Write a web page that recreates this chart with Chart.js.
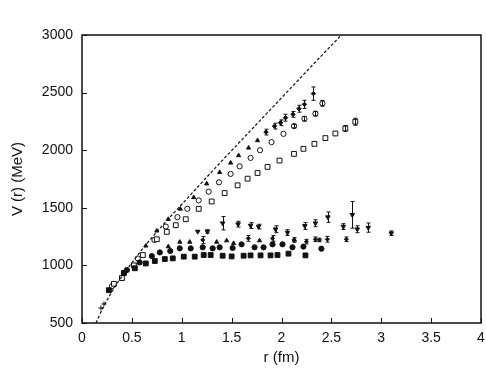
<!DOCTYPE html>
<html><head><meta charset="utf-8">
<script src="https://cdn.jsdelivr.net/npm/chart.js@4"></script>
<style>html,body{margin:0;padding:0;background:#fff}</style>
</head><body>
<canvas id="c" width="486" height="372"></canvas>
<script>
// ---- data (r in fm, V in MeV[, error]) ----
const xTicks = [0, 0.5, 1, 1.5, 2, 2.5, 3, 3.5, 4];
const yTicks = [500, 1000, 1500, 2000, 2500, 3000];

const potentialCurve = [[0.14,500],[0.215,640],[0.33,814],[0.495,1017],[0.66,1200],[0.825,1365],[0.99,1520],[1.32,1831],[1.65,2134],[1.98,2436],[2.31,2738],[2.61,3009]];

const solidSquares = [[0.27,785],[0.42,935],[0.53,975],[0.64,1017],[0.73,1038],[0.83,1055],[0.91,1061],[1.02,1076],[1.13,1076],[1.22,1090],[1.29,1090],[1.41,1084],[1.50,1078],[1.62,1084],[1.69,1087],[1.79,1087],[1.89,1087],[1.96,1090],[2.07,1102],[2.24,1087]];

const solidCircles = [[0.45,960],[0.578,1026],[0.70,1081],[0.78,1113],[0.885,1125],[0.98,1148],[1.09,1148],[1.21,1157],[1.31,1148],[1.38,1157],[1.51,1151],[1.60,1183],[1.73,1157],[1.82,1157],[1.91,1183],[2.01,1183],[2.11,1157],[2.22,1163],[2.40,1145]];

const lowerTriangles = [[0.865,1163],[0.98,1203],[1.08,1203],[1.35,1203],[1.45,1215],[1.52,1192],[1.78,1215],[2.13,1221]];

const lowerErrPoints = [[1.21,1221,30],[1.667,1235,25],[1.91,1235,25],[2.125,1221,20],[2.25,1206,20],[2.34,1227,20],[2.38,1221,15],[2.46,1227,25],[2.65,1227,20]];

const invTriangles = [[1.16,1294,0],[1.257,1294,15],[1.41,1366,58],[1.565,1358,25],[1.69,1346,25],[1.77,1337,20],[1.94,1314,30],[2.06,1285,25],[2.234,1343,30],[2.34,1366,30],[2.465,1419,45],[2.62,1337,25],[2.71,1439,116],[2.76,1314,30],[2.87,1328,40],[3.10,1279,20]];

const openSquares = [[0.32,840,0],[0.40,890,0],[0.52,1000,0],[0.61,1090,0],[0.75,1227,0],[0.85,1291,0],[0.94,1349,0],[1.04,1401,0],[1.17,1491,0],[1.30,1555,0],[1.43,1628,0],[1.56,1695,0],[1.66,1753,0],[1.76,1802,0],[1.86,1855,0],[1.98,1910,0],[2.125,1968,0],[2.22,2012,0],[2.33,2055,0],[2.44,2105,0],[2.54,2145,0],[2.64,2189,25],[2.74,2247,30]];

const openCircles = [[0.30,820,0],[0.42,930,0],[0.56,1060,0],[0.726,1221,0],[0.84,1337,0],[0.957,1419,0],[1.056,1491,0],[1.17,1564,0],[1.27,1640,0],[1.373,1721,0],[1.49,1794,0],[1.58,1860,0],[1.69,1933,0],[1.785,2000,0],[1.90,2070,0],[2.02,2142,0],[2.125,2209,15],[2.23,2273,20],[2.34,2317,20],[2.41,2407,25]];

const upperTriangles = [[0.64,1170],[0.75,1300],[0.865,1401],[0.985,1490],[1.12,1590],[1.25,1709],[1.38,1808],[1.49,1890],[1.57,1954],[1.67,2020],[1.76,2084]];

const upperErrPoints = [[1.845,2157,25],[1.93,2209,25],[1.99,2238,25],[2.04,2282,30],[2.115,2311,25],[2.175,2360,30],[2.23,2398,35],[2.32,2491,58]];

const shortRangeCrosses = [[0.19,630],[0.22,665]];

// ---- helpers ----
const pts = a => a.map(p => ({x: p[0], y: p[1]}));
const errs = a => a.map(p => p[2] || 0);
const INK = '#111';

const errorBars = {
  id: 'errorBars',
  afterDatasetsDraw(chart) {
    const {ctx, scales: {x, y}} = chart;
    ctx.save();
    ctx.strokeStyle = INK; ctx.lineWidth = 1;
    chart.data.datasets.forEach(ds => {
      if (!ds.errs) return;
      ds.data.forEach((p, i) => {
        const e = ds.errs[i]; if (!e) return;
        const px = Math.round(x.getPixelForValue(p.x)) + 0.5;
        const y1 = y.getPixelForValue(p.y + e), y2 = y.getPixelForValue(p.y - e);
        ctx.beginPath();
        ctx.moveTo(px, y1); ctx.lineTo(px, y2);
        ctx.moveTo(px - 2, y1); ctx.lineTo(px + 2, y1);
        ctx.moveTo(px - 2, y2); ctx.lineTo(px + 2, y2);
        ctx.stroke();
      });
    });
    ctx.restore();
  }
};

const frame = {
  id: 'frame',
  afterDraw(chart) {
    const {ctx, chartArea: a, scales: {x, y}} = chart;
    ctx.save();
    ctx.strokeStyle = INK; ctx.lineWidth = 1.5;
    ctx.strokeRect(a.left, a.top, a.right - a.left, a.bottom - a.top);
    ctx.lineWidth = 1;
    ctx.beginPath();
    xTicks.forEach(v => { const px = Math.round(x.getPixelForValue(v)) + 0.5; ctx.moveTo(px, a.bottom); ctx.lineTo(px, a.bottom - 5); });
    yTicks.forEach(v => { const py = Math.round(y.getPixelForValue(v)) + 0.5; ctx.moveTo(a.left, py); ctx.lineTo(a.left + 5, py); });
    ctx.stroke();
    ctx.restore();
  }
};

const mk = (arr, style, radius, filled, extra) => Object.assign({
  data: pts(arr),
  pointStyle: style,
  pointRadius: radius,
  pointBorderWidth: 1,
  pointBackgroundColor: filled ? INK : '#fff',
  pointBorderColor: INK,
  showLine: false
}, extra || {});

new Chart(document.getElementById('c'), {
  type: 'scatter',
  data: {
    datasets: [
      {data: pts(potentialCurve), showLine: true, borderColor: INK, borderWidth: 1.2, borderDash: [3, 2], pointRadius: 0, tension: 0.35, cubicInterpolationMode: 'monotone', fill: false},
      mk(solidSquares, 'rect', 3.4, true),
      mk(solidCircles, 'circle', 2.6, true),
      mk(lowerTriangles, 'triangle', 2.4, true),
      mk(lowerErrPoints, 'rectRot', 2, true, {errs: errs(lowerErrPoints)}),
      mk(invTriangles, 'triangle', 2.6, true, {errs: errs(invTriangles), pointRotation: 180}),
      mk(openSquares, 'rect', 3.4, false, {errs: errs(openSquares)}),
      mk(openCircles, 'circle', 2.6, false, {errs: errs(openCircles)}),
      mk(upperTriangles, 'triangle', 2.4, true),
      mk(upperErrPoints, 'rectRot', 2.2, true, {errs: errs(upperErrPoints)}),
      mk(shortRangeCrosses, 'cross', 2.5, true)
    ]
  },
  options: {
    responsive: false,
    animation: false,
    events: [],
    layout: {padding: {top: 35, right: 2, left: 0, bottom: 0}},
    plugins: {legend: {display: false}, tooltip: {enabled: false}},
    scales: {
      x: {
        type: 'linear', min: 0, max: 4,
        afterBuildTicks: s => { s.ticks = xTicks.map(v => ({value: v})); },
        afterFit: s => { s.height = 49; s.paddingLeft = 0; s.paddingRight = 0; },
        grid: {display: false, drawTicks: false},
        border: {display: false},
        ticks: {color: INK, font: {family: 'Liberation Sans, Arial, sans-serif', size: 14}, padding: 7, maxRotation: 0, autoSkip: false, callback: v => String(v)},
        title: {display: true, text: 'r (fm)', color: INK, font: {family: 'Liberation Sans, Arial, sans-serif', size: 15}, padding: 5}
      },
      y: {
        type: 'linear', min: 500, max: 3000,
        afterBuildTicks: s => { s.ticks = yTicks.map(v => ({value: v})); },
        afterFit: s => { s.width = 82; s.paddingTop = 0; s.paddingBottom = 0; },
        grid: {display: false, drawTicks: false},
        border: {display: false},
        ticks: {color: INK, font: {family: 'Liberation Sans, Arial, sans-serif', size: 14}, padding: 9, autoSkip: false, callback: v => String(v)},
        title: {display: true, text: 'V (r) (MeV)', color: INK, font: {family: 'Liberation Sans, Arial, sans-serif', size: 15}, padding: 9}
      }
    }
  },
  plugins: [errorBars, frame]
});
</script>
</body></html>
